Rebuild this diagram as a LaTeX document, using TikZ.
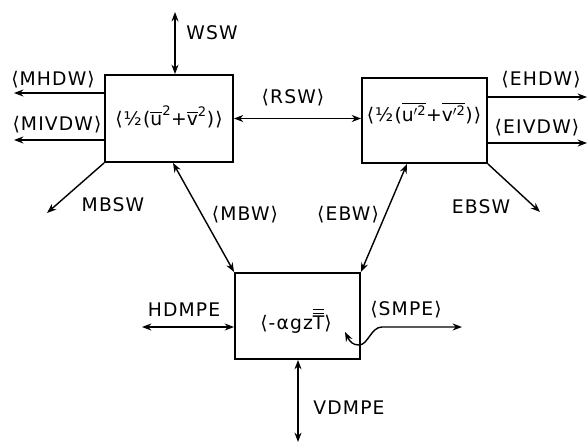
\documentclass[tikz,border=0pt]{standalone}
\usepackage{amsmath}
\usepackage{fontspec}
\setmainfont{DejaVu Sans}[LetterSpace=6]
\usepackage{tikz}
\usetikzlibrary{arrows.meta}

\begin{document}
\begin{tikzpicture}[
    x=0.03cm, y=-0.03cm,
    every node/.style={font=\fontsize{16}{19}\selectfont, inner sep=1pt},
    budget/.style={rectangle, draw, line width=1.6pt, inner sep=0pt},
    flux/.style={line width=1.2pt, -{Stealth[length=8pt, width=6pt]}},
    xflux/.style={line width=1.2pt,
                  {Stealth[length=8pt, width=6pt]}-{Stealth[length=8pt, width=6pt]}},
]
  \useasboundingbox (0,0) rectangle (588,445);

  % ---- budget boxes ----
  \node[budget, minimum width=3.84cm, minimum height=2.61cm] (K) at (169,118.5) {};
  \node[budget, minimum width=3.75cm, minimum height=2.55cm] (E) at (424.5,120.5) {};
  \node[budget, minimum width=3.75cm, minimum height=2.58cm] (P) at (297.5,316) {};

  % ---- box contents ----
  \node (Ktext) at (169,117)
    {⟨½($\overline{\text{u}}^{\text{2}}$+$\overline{\text{v}}^{\text{2}}$)⟩};
  \node (Etext) at (424,113)
    {⟨½($\overline{\text{u}^{\prime\text{2}}}$+$\overline{\text{v}^{\prime\text{2}}}$)⟩};
  \node (Ptext) at (296,321)
    {⟨-αgz$\overline{\overline{\mbox{T}}}$⟩};

  % ---- mean kinetic energy fluxes ----
  \coordinate (wsw)   at (175,12);
  \coordinate (mhdw)  at (14,93);
  \coordinate (mivdw) at (14,140);
  \coordinate (mbsw)  at (47,213);
  \draw[xflux] (K.north -| wsw) -- (wsw);
  \draw[flux]  (K.west |- mhdw) -- (mhdw);
  \draw[flux]  (K.west |- mivdw) -- (mivdw);
  \draw[flux]  (K.south west) -- (mbsw);
  \draw[xflux] (K.east) -- (K.east -| E.west);

  % ---- eddy kinetic energy fluxes ----
  \coordinate (ehdw)  at (587,97);
  \coordinate (eivdw) at (587,143);
  \coordinate (ebsw)  at (540,212);
  \draw[flux] (E.east |- ehdw) -- (ehdw);
  \draw[flux] (E.east |- eivdw) -- (eivdw);
  \draw[flux] (E.south east) -- (ebsw);

  % ---- potential energy fluxes ----
  \coordinate (mbw)    at (173,0);
  \coordinate (ebw)    at (407,0);
  \coordinate (hdmpe)  at (142,327);
  \coordinate (vdmpe)  at (298,442);
  \coordinate (smpein) at (345,332);
  \coordinate (smpe)   at (462,327);
  \draw[xflux] (K.south -| mbw) -- (P.north west);
  \draw[xflux] (E.south -| ebw) -- (P.north east);
  \draw[xflux] (P.west |- hdmpe) -- (hdmpe);
  \draw[xflux] (P.south -| vdmpe) -- (vdmpe);
  \draw[xflux] (smpein) .. controls (350,342) and (353,345) .. (359,345)
               .. controls (368,345) and (371,327) .. (382,327) -- (smpe);

  % ---- labels ----
  \node (lwsw)   at (212,33)  {WSW};
  \node (lmhdw)  at (53,80)   {⟨MHDW⟩};
  \node (lmivdw) at (57,125)  {⟨MIVDW⟩};
  \node (lrsw)   at (293,98)  {⟨RSW⟩};
  \node (lmbsw)  at (113,205) {MBSW};
  \node (lehdw)  at (541,80)  {⟨EHDW⟩};
  \node (leivdw) at (537,128) {⟨EIVDW⟩};
  \node (lebsw)  at (481,207) {EBSW};
  \node (lmbw)   at (245,215) {⟨MBW⟩};
  \node (lebw)   at (348,215) {⟨EBW⟩};
  \node (lhdmpe) at (184,310) {HDMPE};
  \node (lsmpe)  at (406,310) {⟨SMPE⟩};
  \node (lvdmpe) at (349,408) {VDMPE};
\end{tikzpicture}
\end{document}
